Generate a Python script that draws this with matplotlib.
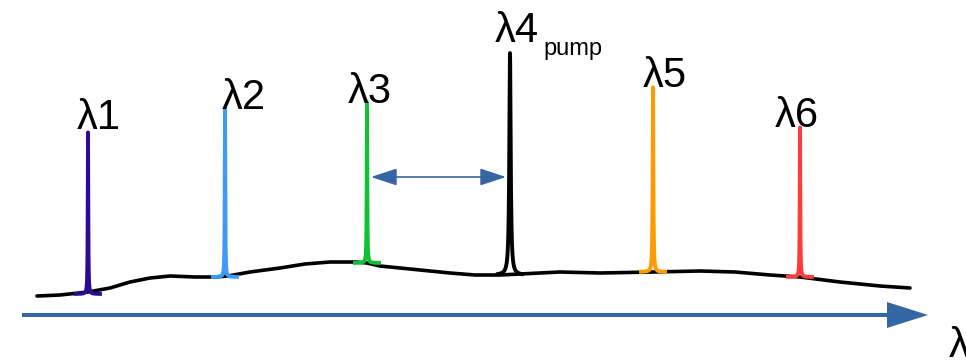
import numpy as np
import matplotlib.pyplot as plt

# broadband background (x position, level)
base_x = [37, 60, 88, 110, 130, 150, 170, 195, 215, 228, 250, 280, 305, 330, 355, 367,
          380, 420, 450, 475, 500, 520, 560, 600, 653, 700, 735, 770, 800, 840, 880, 910]
base_y = [65, 66, 69, 73, 79, 83, 85, 84, 84, 85, 89, 93, 97, 99, 99, 98,
          95, 91, 88, 86, 86, 87, 89, 88, 89, 90, 89, 86, 84, 79, 75, 73]

# spectral lines
line_names = ['λ1', 'λ2', 'λ3', 'λ4', 'λ5', 'λ6']
line_x = [88, 225, 367, 510, 653, 800]
line_top = [229, 253, 259, 308, 274, 234]
line_floor = [67, 84, 98, 86, 89, 84]
line_colors = ['#2b0a99', '#3d9bf5', '#0dc334', '#000000', '#ff9a00', '#ff3a3a']
line_gamma = [0.3, 0.3, 0.3, 0.8, 0.4, 0.3]

# label anchors (left edge, baseline)
label_x = [77, 222, 348, 495, 643, 775]
label_y = [232, 252, 258, 319, 274, 234]

arrow_color = '#3465a4'

fig = plt.figure(figsize=(9.66, 3.61), dpi=100)
ax = fig.add_axes([0, 0, 1, 1])
ax.set_xlim(0, 966)
ax.set_ylim(0, 361)
ax.axis('off')

ax.plot(base_x, base_y, color='black', lw=2.6, solid_capstyle='round', zorder=2)

for x0, top, floor, c, g in zip(line_x, line_top, line_floor, line_colors, line_gamma):
    xs = np.linspace(x0 - 12, x0 + 12, 800)
    ys = floor + (top - floor) * g**2 / ((xs - x0)**2 + g**2)
    ax.plot(xs, ys, color=c, lw=2.8, zorder=3)

font = dict(family=['Liberation Sans', 'DejaVu Sans'], fontsize=30)
for name, lx, ly in zip(line_names, label_x, label_y):
    ax.text(lx, ly, name, ha='left', va='baseline', **font)
ax.text(543, 306, 'pump', ha='left', va='baseline',
        family=['Liberation Sans', 'DejaVu Sans'], fontsize=17)

# detuning between lambda3 and the pump
ax.annotate('', xy=(506, 184), xytext=(371, 184),
            arrowprops=dict(arrowstyle='<|-|>,head_length=1.0,head_width=0.33',
                            mutation_scale=16, color=arrow_color, lw=1.2,
                            shrinkA=0, shrinkB=0))

# wavelength axis
ax.arrow(22, 46, 906, 0, width=4, head_width=26, head_length=41,
         length_includes_head=True, color=arrow_color, lw=0)
ax.text(949, 4, 'λ', ha='left', va='baseline', clip_on=False, **font)

fig.savefig('out.png', dpi=100)
